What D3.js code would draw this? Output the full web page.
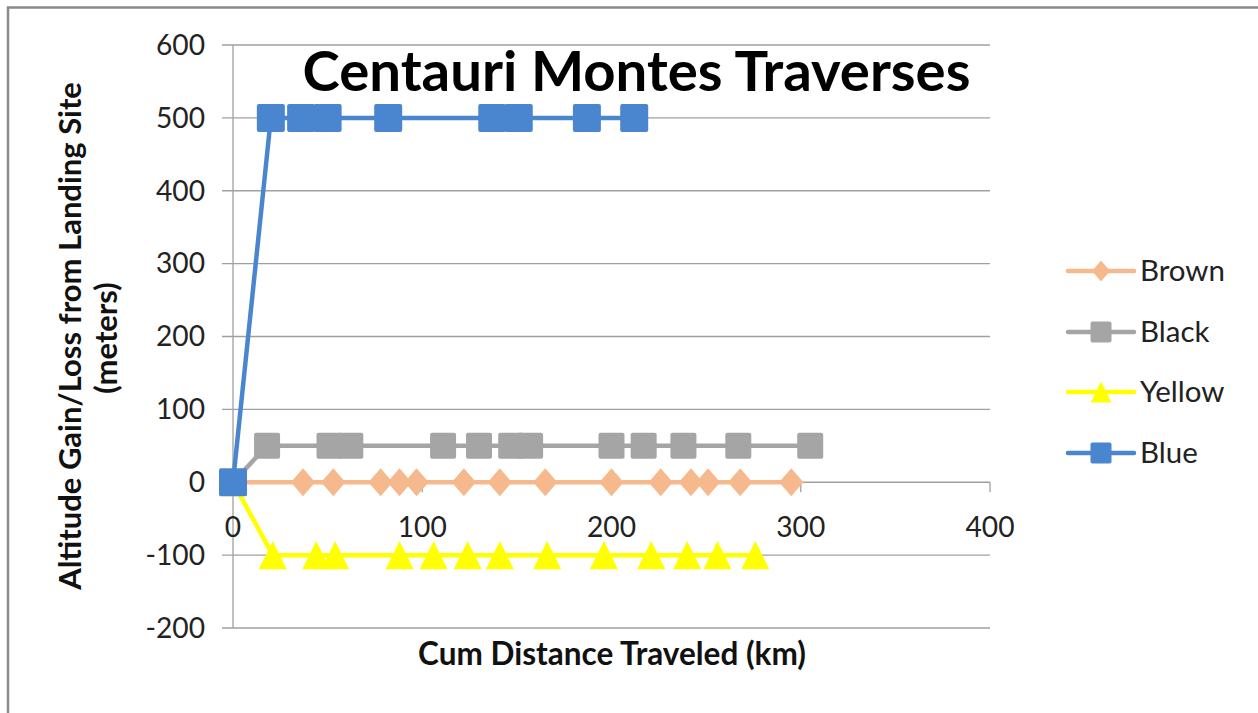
<!DOCTYPE html>
<html><head><meta charset="utf-8">
<script src="https://cdn.jsdelivr.net/npm/d3@7"></script>
<style>
html,body{margin:0;padding:0;background:#fff;}
svg{display:block;font-family:Lato,"Open Sans",sans-serif;}
</style></head>
<body><svg id="c" width="1258" height="713"></svg>
<script>
// ---- data ----
const chartTitle = "Centauri Montes Traverses";
const xAxisTitle = "Cum Distance Traveled (km)";
const yAxisTitle = ["Altitude Gain/Loss from Landing Site", "(meters)"];
const xTicks = [0, 100, 200, 300, 400];
const yTicks = [-200, -100, 0, 100, 200, 300, 400, 500, 600];
const seriesNames = ["Brown", "Black", "Yellow", "Blue"];
const brownX  = [0, 37, 53, 78, 88, 97, 122, 141, 165, 200, 226, 242, 251, 268, 295];
const brownY  = [0, 0, 0, 0, 0, 0, 0, 0, 0, 0, 0, 0, 0, 0, 0];
const blackX  = [0, 18, 51, 62, 111, 130, 147, 157, 200, 217, 238, 267, 305];
const blackY  = [0, 50, 50, 50, 50, 50, 50, 50, 50, 50, 50, 50, 50];
const yellowX = [0, 21, 44, 54, 88, 106, 124, 141, 166, 196, 221, 240, 256, 276];
const yellowY = [0, -100, -100, -100, -100, -100, -100, -100, -100, -100, -100, -100, -100, -100];
const blueX   = [0, 20, 36, 50, 82, 137, 151, 187, 212];
const blueY   = [0, 500, 500, 500, 500, 500, 500, 500, 500];

const seriesData = [
  {name: seriesNames[0], xs: brownX, ys: brownY, color: "#f6b98e", marker: "diamond"},
  {name: seriesNames[1], xs: blackX, ys: blackY, color: "#a5a5a5", marker: "square"},
  {name: seriesNames[2], xs: yellowX, ys: yellowY, color: "#ffff00", marker: "triangle"},
  {name: seriesNames[3], xs: blueX, ys: blueY, color: "#4a86d0", marker: "square"}
];

const svg = d3.select("#c");
const x = d3.scaleLinear().domain([0, 400]).range([233, 990]);
const y = d3.scaleLinear().domain([-200, 600]).range([628, 45]);

function fit(sel, target){
  sel.attr("font-size", 20);
  const len = sel.node().getComputedTextLength();
  const s = 20 * target / len;
  sel.attr("font-size", s);
  return s;
}

// outer border
svg.append("rect").attr("x", 8).attr("y", 7.5).attr("width", 1300).attr("height", 800)
  .attr("fill", "none").attr("stroke", "#8a8a8a").attr("stroke-width", 2.5);

// gridlines (horizontal)
const gridCol = "#a0a0a0";
svg.append("g").selectAll("line").data(yTicks).join("line")
  .attr("x1", 222).attr("x2", x(400))
  .attr("y1", d => y(d)).attr("y2", d => y(d))
  .attr("stroke", gridCol).attr("stroke-width", 1.3);
// vertical axis line
svg.append("line").attr("x1", x(0)).attr("x2", x(0)).attr("y1", y(600)).attr("y2", y(-200))
  .attr("stroke", gridCol).attr("stroke-width", 1.3);
// x ticks on zero line
svg.append("g").selectAll("line").data(xTicks).join("line")
  .attr("x1", d => x(d)).attr("x2", d => x(d))
  .attr("y1", y(0)).attr("y2", y(0) + 10)
  .attr("stroke", gridCol).attr("stroke-width", 1.3);

// tick labels
const yl = svg.append("g").selectAll("text").data(yTicks).join("text")
  .attr("x", 205).attr("y", d => y(d)).attr("dy", "0.35em")
  .attr("text-anchor", "end").attr("fill", "#222").text(d => d);
const tickSize = fit(yl.filter(d => d === 600), 49);
yl.attr("font-size", tickSize);
svg.append("g").selectAll("text").data(xTicks).join("text")
  .attr("x", d => x(d)).attr("y", 527).attr("dy", "0.35em")
  .attr("text-anchor", "middle").attr("fill", "#222").attr("font-size", tickSize).text(d => d);

// marker paths
function markerPath(type, cx, cy, s){
  if(type === "diamond"){
    const w = s*0.45, h = s*0.52;
    return `M${cx},${cy-h}L${cx+w},${cy}L${cx},${cy+h}L${cx-w},${cy}Z`;
  }
  if(type === "triangle"){
    const w = s*0.52, h = s*0.52;
    return `M${cx},${cy-h}L${cx+w},${cy+h}L${cx-w},${cy+h}Z`;
  }
  const h = s*0.5, r = 2;
  return `M${cx-h+r},${cy-h}H${cx+h-r}Q${cx+h},${cy-h} ${cx+h},${cy-h+r}V${cy+h-r}Q${cx+h},${cy+h} ${cx+h-r},${cy+h}H${cx-h+r}Q${cx-h},${cy+h} ${cx-h},${cy+h-r}V${cy-h+r}Q${cx-h},${cy-h} ${cx-h+r},${cy-h}Z`;
}

const line = d3.line().x(d => x(d[0])).y(d => y(d[1]));
seriesData.forEach(s => {
  const pts = s.xs.map((v, i) => [v, s.ys[i]]);
  const g = svg.append("g");
  g.append("path").attr("d", line(pts)).attr("fill", "none")
    .attr("stroke", s.color).attr("stroke-width", 4.5).attr("stroke-linejoin", "round").attr("stroke-linecap", "round");
  const size = s.marker === "square" ? (s.name === "Blue" ? 28 : 26) : (s.marker === "diamond" ? 27 : 27);
  g.selectAll("path.m").data(pts).join("path").attr("class", "m")
    .attr("d", d => markerPath(s.marker, x(d[0]), y(d[1]), size))
    .attr("fill", s.color);
});

// title
const t = svg.append("text").attr("x", 636.5).attr("y", 91).attr("text-anchor", "middle")
  .attr("font-weight", 700).attr("fill", "#000").text(chartTitle);
fit(t, 668);

// axis titles
const xt = svg.append("text").attr("x", 612).attr("y", 665).attr("text-anchor", "middle")
  .attr("font-weight", 700).attr("fill", "#111").text(xAxisTitle);
fit(xt, 388);
const y1 = svg.append("text").attr("transform", "translate(81,336) rotate(-90)")
  .attr("text-anchor", "middle").attr("font-weight", 700).attr("fill", "#111").text(yAxisTitle[0]);
const ys = fit(y1, 508);
svg.append("text").attr("transform", "translate(117,338) rotate(-90)")
  .attr("text-anchor", "middle").attr("font-weight", 700).attr("fill", "#111")
  .attr("font-size", ys).text(yAxisTitle[1]);

// legend
const legY = [271, 332, 392, 453];
const leg = svg.append("g");
let legSize = null;
seriesData.forEach((s, i) => {
  const cy = legY[i];
  leg.append("line").attr("x1", 1068).attr("x2", 1134).attr("y1", cy).attr("y2", cy)
    .attr("stroke", s.color).attr("stroke-width", 4.5).attr("stroke-linecap", "round");
  leg.append("path").attr("d", markerPath(s.marker, 1101, cy, s.marker === "square" ? 21 : 20)).attr("fill", s.color);
  const tx = leg.append("text").attr("x", 1140).attr("y", cy).attr("dy", "0.35em").attr("fill", "#222").text(s.name);
  if(i === 0) legSize = fit(tx, 85); else tx.attr("font-size", legSize);
});
</script></body></html>
